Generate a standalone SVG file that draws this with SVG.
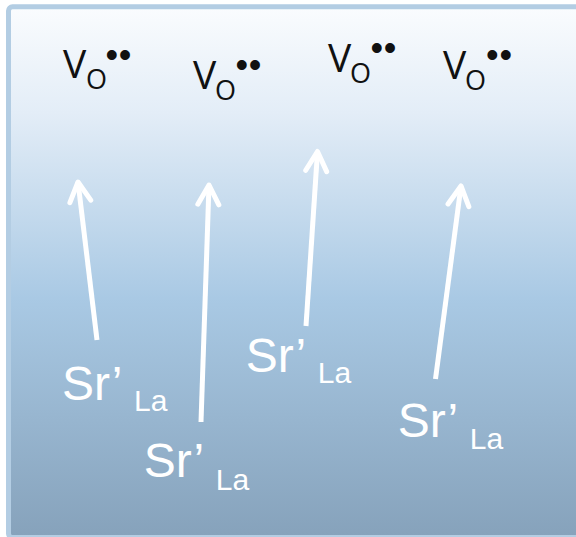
<svg xmlns="http://www.w3.org/2000/svg" width="576" height="537" viewBox="0 0 576 537">
  <defs>
    <linearGradient id="bg" x1="0" y1="0" x2="0" y2="1">
      <stop offset="0" stop-color="#fafcfe"/>
      <stop offset="0.2" stop-color="#e3edf7"/>
      <stop offset="0.55" stop-color="#a9c9e4"/>
      <stop offset="1" stop-color="#86a2bb"/>
    </linearGradient>
    <marker id="ah" markerUnits="userSpaceOnUse" orient="auto" refX="0" refY="0" viewBox="-26 -16 30 32" markerWidth="30" markerHeight="32" overflow="visible">
      <path d="M-19.5,-10.5 L0,0 L-19.5,10.5" fill="none" stroke="#ffffff" stroke-width="5" stroke-linecap="round" stroke-linejoin="round"/>
    </marker>
    <style>
      .v { font-family: "Open Sans", "DejaVu Sans", sans-serif; font-size: 39px; fill: #111; }
      .o { font-family: "Open Sans", "DejaVu Sans", sans-serif; font-size: 27px; fill: #111; }
      .d { font-family: "Liberation Sans", Arial, sans-serif; font-size: 36px; fill: #111; letter-spacing: 0.8px; }
      .sr { font-family: "Liberation Sans", Arial, sans-serif; font-size: 48px; fill: #ffffff; }
      .la { font-family: "Liberation Sans", Arial, sans-serif; font-size: 30px; fill: #ffffff; }
      .arr { stroke: #ffffff; stroke-width: 5; fill: none; stroke-linecap: butt; marker-end: url(#ah); }
    </style>
  </defs>

  <g id="background">
    <rect x="8.5" y="6.8" width="600" height="530.7" rx="4" fill="url(#bg)" stroke="#b3cde3" stroke-width="5"/>
  </g>

  <g id="vo1">
    <text class="v" x="63" y="78">V</text>
    <text class="o" x="86" y="89">O</text>
    <text class="d" x="105.4" y="67">••</text>
  </g>
  <g id="vo2">
    <text class="v" x="193" y="89">V</text>
    <text class="o" x="215" y="100">O</text>
    <text class="d" x="235.4" y="77.3">••</text>
  </g>
  <g id="vo3">
    <text class="v" x="328" y="71.5">V</text>
    <text class="o" x="350" y="82.5">O</text>
    <text class="d" x="370.4" y="59.7">••</text>
  </g>
  <g id="vo4">
    <text class="v" x="443" y="79">V</text>
    <text class="o" x="465" y="90">O</text>
    <text class="d" x="486" y="67.3">••</text>
  </g>

  <g id="connectors">
    <line class="arr" x1="97" y1="340" x2="78" y2="182"/>
    <line class="arr" x1="201" y1="422" x2="209" y2="185"/>
    <line class="arr" x1="306" y1="326" x2="317.5" y2="151.5"/>
    <line class="arr" x1="435.5" y1="379" x2="461" y2="186"/>
  </g>

  <g id="sr1">
    <text class="sr" x="62" y="399.5">Sr’</text>
    <text class="la" x="134" y="411">La</text>
  </g>
  <g id="sr2">
    <text class="sr" x="143.8" y="476.5">Sr’</text>
    <text class="la" x="215.8" y="490">La</text>
  </g>
  <g id="sr3">
    <text class="sr" x="245.8" y="371.5">Sr’</text>
    <text class="la" x="317.8" y="383">La</text>
  </g>
  <g id="sr4">
    <text class="sr" x="397.8" y="436.5">Sr’</text>
    <text class="la" x="469.8" y="449">La</text>
  </g>
</svg>
